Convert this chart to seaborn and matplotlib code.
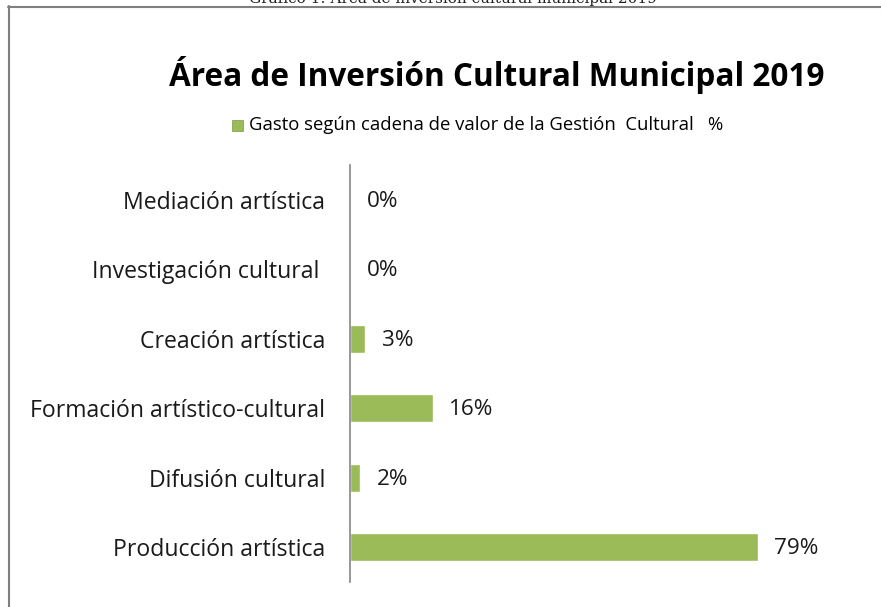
import matplotlib
matplotlib.use('Agg')
import matplotlib.pyplot as plt
from matplotlib.lines import Line2D
import seaborn as sns
import pandas as pd

# data, top to bottom as in the chart
categorias = [
    'Mediación artística',
    'Investigación cultural ',
    'Creación artística',
    'Formación artístico-cultural',
    'Difusión cultural',
    'Producción artística',
]
gasto = [0.00, 0.00, 0.03, 0.16, 0.02, 0.79]
etiquetas = ['0%', '0%', '3%', '16%', '2%', '79%']

serie = 'Gasto según cadena de valor de la Gestión  Cultural   %'
titulo = 'Área de Inversión Cultural Municipal 2019'
caption = 'Gráfico 1: Área de inversión cultural municipal 2019'

df = pd.DataFrame({'cat': categorias, 'val': gasto, 'serie': serie})

sns.set_theme(style='white')
plt.rcParams['font.family'] = ['Open Sans', 'DejaVu Sans']

W, H = 881, 607
fig = plt.figure(figsize=(W / 100, H / 100), dpi=100)
fig.patch.set_facecolor('white')

# axes placed in pixel coordinates
x0, x1, y0, y1 = 350, 822, 165, 582
ax = fig.add_axes([x0 / W, 1 - y1 / H, (x1 - x0) / W, (y1 - y0) / H])

verde = '#9BBB59'
sns.barplot(data=df, x='val', y='cat', hue='serie', orient='h',
            palette=[verde], saturation=1, width=0.4, ax=ax, legend=False)

ax.set_xlim(0, 0.915)
ax.set_ylim(5.5, -0.5)
ax.set_xlabel('')
ax.set_ylabel('')
ax.set_xticks([])
for s in ['top', 'right', 'bottom']:
    ax.spines[s].set_visible(False)
ax.spines['left'].set_color('#868686')
ax.spines['left'].set_linewidth(1.2)
ax.tick_params(axis='y', length=0, pad=18, labelsize=16.6, labelcolor='#1a1a1a')

for i, (v, t) in enumerate(zip(gasto, etiquetas)):
    ax.annotate(t, xy=(v, i), xytext=(12, -1), textcoords='offset points',
                ha='left', va='center', fontsize=16.2, color='#1a1a1a')

# title and legend
fig.text(497 / W, 1 - 75 / H, titulo, ha='center', va='center',
         fontsize=22.7, fontweight='bold', color='black')
fig.patches.append(plt.Rectangle((232 / W, 1 - 131 / H), 11 / W, 11 / H,
                                 transform=fig.transFigure, facecolor=verde,
                                 edgecolor='#7a9a3a', lw=0.5))
fig.text(249 / W, 1 - 125 / H, serie, ha='left', va='center',
         fontsize=13.3, color='black')

# frame of the embedded chart and clipped caption above it
fig.add_artist(Line2D([8.5 / W, 8.5 / W], [0, 1 - 6 / H], color='#7f7f7f', lw=1.5))
fig.add_artist(Line2D([8 / W, 1], [1 - 6.5 / H, 1 - 6.5 / H], color='#7f7f7f', lw=1.5))
fig.text(453 / W, 1 - 3 / H, caption, ha='center', va='baseline',
         fontsize=11, family=['DejaVu Serif'], color='#222222')

fig.savefig('out.png', dpi=100, facecolor='white')
